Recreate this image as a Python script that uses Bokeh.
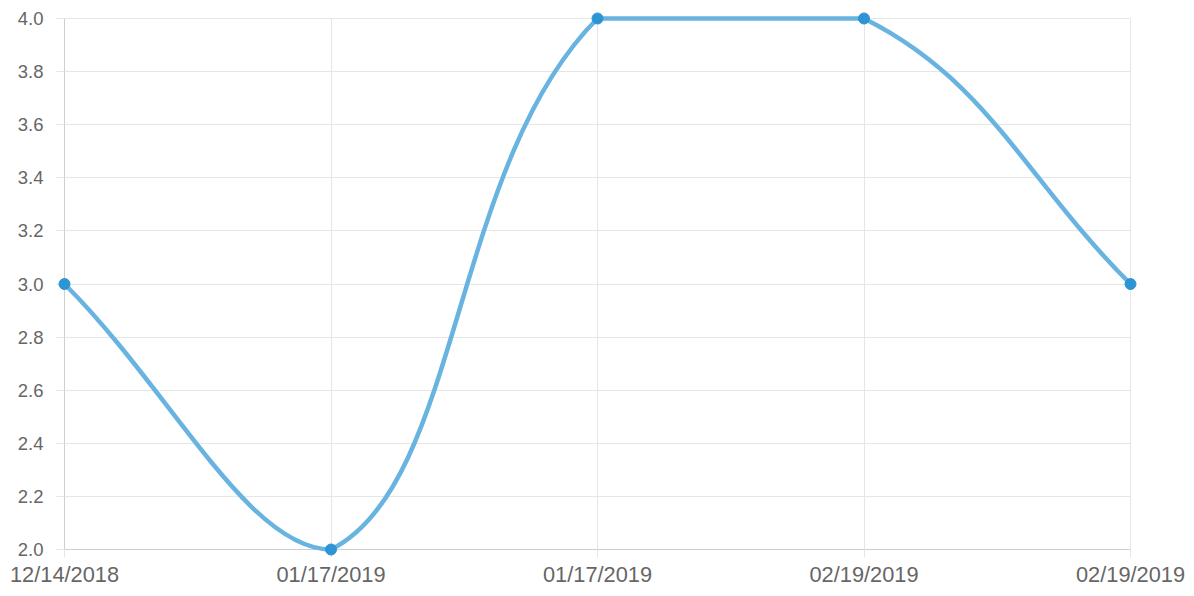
import math
from bokeh.plotting import figure
from bokeh.models import Range1d, FixedTicker, NumeralTickFormatter
from bokeh.core.properties import value
from bokeh.embed import file_html
from bokeh.resources import INLINE

# ---- data ----
labels = ["12/14/2018", "01/17/2019", "01/17/2019", "02/19/2019", "02/19/2019"]
values = [3.0, 2.0, 4.0, 4.0, 3.0]
y_ticks = [2.0, 2.2, 2.4, 2.6, 2.8, 3.0, 3.2, 3.4, 3.6, 3.8, 4.0]

W, H = 1186, 588
ML, MR, MT, MB = 64, 56, 18, 39
Y_MIN, Y_MAX = 2.0, 4.0
xs = list(range(len(values)))
X_MIN, X_MAX = 0, len(values) - 1

frame_w = W - ML - MR
frame_h = H - MT - MB
px = frame_w / (X_MAX - X_MIN)
py = frame_h / (Y_MAX - Y_MIN)

# Chart.js style spline control points (tension 0.4, capped to chart area)
tension = 0.4
n = len(values)
cp_prev, cp_next = [], []
for i in range(n):
    cx, cy = xs[i], values[i]
    pxp, pyp = (xs[i - 1], values[i - 1]) if i > 0 else (cx, cy)
    pxn, pyn = (xs[i + 1], values[i + 1]) if i < n - 1 else (cx, cy)
    d01 = math.hypot((cx - pxp) * px, (cy - pyp) * py)
    d12 = math.hypot((pxn - cx) * px, (pyn - cy) * py)
    tot = d01 + d12
    s01 = d01 / tot if tot else 0
    s12 = d12 / tot if tot else 0
    fa, fb = tension * s01, tension * s12
    ap = (cx - fa * (pxn - pxp), cy - fa * (pyn - pyp))
    an = (cx + fb * (pxn - pxp), cy + fb * (pyn - pyp))
    clamp = lambda p: (min(max(p[0], X_MIN), X_MAX), min(max(p[1], Y_MIN), Y_MAX))
    cp_prev.append(clamp(ap))
    cp_next.append(clamp(an))

p = figure(width=W, height=H, output_backend="svg", toolbar_location=None,
           x_range=Range1d(X_MIN, X_MAX), y_range=Range1d(Y_MIN, Y_MAX),
           min_border_left=ML, min_border_right=MR, min_border_top=MT, min_border_bottom=MB)
p.background_fill_color = "white"
p.border_fill_color = "white"
p.outline_line_color = "#e6e6e6"

grid_col = "#e6e6e6"
p.xgrid.grid_line_color = grid_col
p.ygrid.grid_line_color = grid_col
p.xgrid.ticker = FixedTicker(ticks=xs)
p.ygrid.ticker = FixedTicker(ticks=y_ticks)

p.xaxis.ticker = FixedTicker(ticks=xs)
p.yaxis.ticker = FixedTicker(ticks=y_ticks)
p.yaxis.formatter = NumeralTickFormatter(format="0.0")

for ax in (p.xaxis[0], p.yaxis[0]):
    ax.axis_line_color = "#cfcfcf"
    ax.major_tick_line_color = grid_col
    ax.major_tick_in = 0
    ax.major_tick_out = 8
    ax.minor_tick_line_color = None
    ax.major_label_text_color = "#666666"
    ax.major_label_text_font = "Liberation Sans"
# x tick labels drawn as a text glyph so the axis panel stays compact
p.xaxis.major_label_text_font_size = "0px"
p.xaxis.major_label_text_color = None
p.xaxis.major_label_standoff = 0
p.yaxis.major_label_text_font_size = "18.5px"
p.yaxis.major_label_standoff = 13

p.text(x=xs, y=[Y_MIN] * len(xs), text=labels, y_offset=37,
       text_align="center", text_baseline="bottom",
       text_font=value("Liberation Sans"), text_font_size="21.8px",
       text_color="#666666", level="overlay")

p.bezier(x0=xs[:-1], y0=values[:-1], x1=xs[1:], y1=values[1:],
         cx0=[c[0] for c in cp_next[:-1]], cy0=[c[1] for c in cp_next[:-1]],
         cx1=[c[0] for c in cp_prev[1:]], cy1=[c[1] for c in cp_prev[1:]],
         line_color="#68b3e0", line_width=4.5, level="overlay")
p.scatter(xs, values, size=11, fill_color="#2e95d5", line_color="#2e95d5", level="overlay")

open("out.html", "w").write(file_html(p, INLINE))
